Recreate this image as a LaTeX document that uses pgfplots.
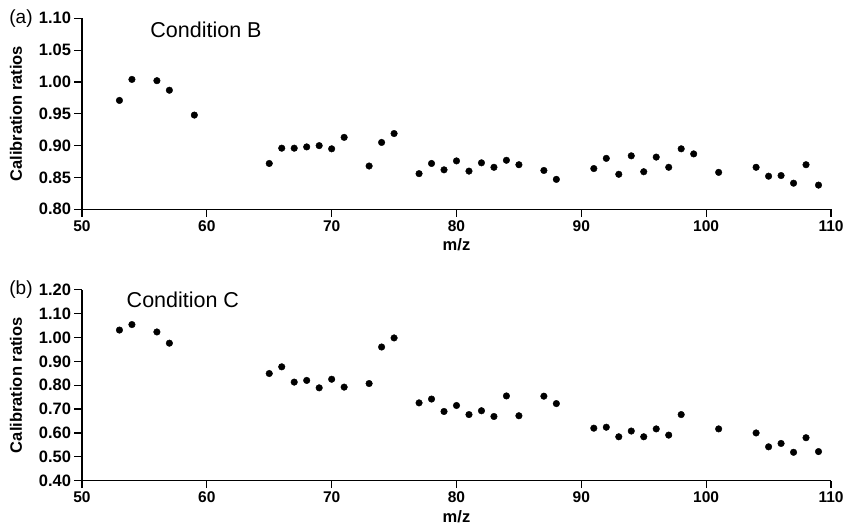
\documentclass[border=0pt]{standalone}
\usepackage{pgfplots}
\pgfplotsset{compat=1.18}
\usepackage{fontspec}
\setmainfont{Liberation Sans}[BoldFont={Liberation Sans Bold}]
\begin{document}
\begin{tikzpicture}
\path[use as bounding box] (-82pt,-314.7pt) rectangle (763pt,209.3pt);
\pgfplotsset{
  mystyle/.style={
    scale only axis, width=749pt, height=191pt,
    axis lines=left, axis line style={line width=1.4pt, -},
    xmin=50, xmax=110, xtick={50,60,...,110},
    tick align=outside,
    major tick length=7.5pt,
    every tick/.style={black, line width=1.2pt},
    /pgf/number format/assume math mode=true,
    /pgf/number format/fixed, /pgf/number format/fixed zerofill, /pgf/number format/precision=2,
    xticklabel style={font=\fontsize{15.5}{15.5}\selectfont\bfseries, /pgf/number format/precision=0, /pgf/number format/fixed zerofill=false},
    yticklabel style={font=\fontsize{16.5}{16.5}\selectfont\bfseries},
    xlabel={m/z}, xlabel style={font=\fontsize{16.5}{16.5}\selectfont\bfseries, yshift=-0.5pt},
    ylabel={Calibration ratios}, ylabel style={font=\fontsize{16.5}{16.5}\selectfont\bfseries, at={(axis description cs:-0.0881,0.5)}, anchor=center},
    clip=false,
  },
  dots/.style={only marks, mark=*, mark size=3.3pt, black, mark options={fill=black, draw=black}},
}
\begin{axis}[mystyle, ymin=0.80, ymax=1.10, ytick={0.80,0.85,...,1.101}]
\addplot[dots] coordinates {
(53,0.971) (54,1.004) (56,1.002) (57,0.987) (59,0.948)
(65,0.872) (66,0.896) (67,0.896) (68,0.898) (69,0.900) (70,0.895) (71,0.913)
(73,0.868) (74,0.905) (75,0.919) (77,0.856) (78,0.872) (79,0.862) (80,0.876)
(81,0.860) (82,0.873) (83,0.866) (84,0.877) (85,0.870) (87,0.861) (88,0.847)
(91,0.864) (92,0.880) (93,0.855) (94,0.884) (95,0.859) (96,0.882) (97,0.866)
(98,0.895) (99,0.887) (101,0.858) (104,0.866) (105,0.852) (106,0.853)
(107,0.841) (108,0.870) (109,0.838)
};
\node[anchor=west, font=\fontsize{21.5}{21.5}\selectfont] at (axis cs:55.2,1.082) {Condition B};
\node[anchor=west, font=\fontsize{19}{19}\selectfont] at (axis cs:43.9,1.10) {(a)};
\end{axis}
\begin{axis}[mystyle, at={(0pt,-271.4pt)}, ymin=0.40, ymax=1.20, ytick={0.40,0.50,...,1.201}]
\addplot[dots] coordinates {
(53,1.031) (54,1.054) (56,1.023) (57,0.976)
(65,0.849) (66,0.877) (67,0.813) (68,0.820) (69,0.789) (70,0.825) (71,0.792)
(73,0.807) (74,0.960) (75,0.998) (77,0.726) (78,0.742) (79,0.690) (80,0.715)
(81,0.677) (82,0.693) (83,0.669) (84,0.755) (85,0.672) (87,0.754) (88,0.723)
(91,0.620) (92,0.624) (93,0.584) (94,0.608) (95,0.584) (96,0.617) (97,0.591)
(98,0.677) (101,0.617) (104,0.600) (105,0.542) (106,0.556) (107,0.519)
(108,0.580) (109,0.522)
};
\node[anchor=west, font=\fontsize{21.5}{21.5}\selectfont] at (axis cs:53.3,1.158) {Condition C};
\node[anchor=west, font=\fontsize{19}{19}\selectfont] at (axis cs:43.9,1.20) {(b)};
\end{axis}
\end{tikzpicture}
\end{document}
